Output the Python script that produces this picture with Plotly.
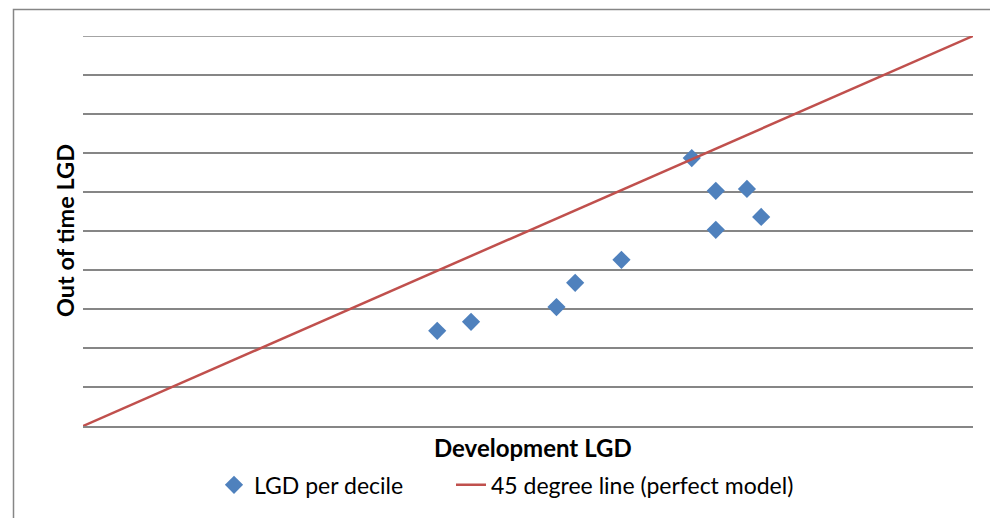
import plotly.graph_objects as go

# Data
dev_lgd = [0.398, 0.436, 0.532, 0.553, 0.605, 0.684, 0.711, 0.711, 0.746, 0.762]
oot_lgd = [0.244, 0.267, 0.305, 0.367, 0.426, 0.687, 0.603, 0.503, 0.608, 0.536]
line_x = [0.0, 1.0]
line_y = [0.0, 1.0]

FONT = "Lato, 'Noto Sans', sans-serif"
GRID = "#868686"

fig = go.Figure()
fig.add_trace(go.Scatter(
    x=dev_lgd, y=oot_lgd, mode="markers", name="LGD per decile",
    marker=dict(symbol="diamond", size=14, color="#4F81BD", line=dict(width=0)),
    legend="legend",
))
fig.add_trace(go.Scatter(
    x=line_x, y=line_y, mode="lines", name="45 degree line (perfect model)",
    line=dict(color="#C0504D", width=2.5),
    legend="legend2",
))

leg_common = dict(orientation="h", y=-0.151, yanchor="middle", xanchor="left",
                  font=dict(size=23), bgcolor="rgba(0,0,0,0)")

fig.update_layout(
    width=998, height=518,
    margin=dict(l=75, r=33, t=28, b=100),
    paper_bgcolor="white", plot_bgcolor="white",
    font=dict(family=FONT, size=23, color="black"),
    showlegend=True,
    legend=dict(x=(206 - 75) / 890, **leg_common),
    legend2=dict(x=(443 - 75) / 890, **leg_common),
    xaxis=dict(range=[0, 1], showticklabels=False, showgrid=False, zeroline=False,
               showline=True, linecolor=GRID, linewidth=1.5, ticks=""),
    yaxis=dict(range=[0, 1], dtick=0.1, tick0=0, showticklabels=False, showgrid=True,
               gridcolor=GRID, gridwidth=1.5, zeroline=False, showline=False, ticks=""),
    annotations=[
        dict(text="<b>Development LGD</b>", xref="paper", yref="paper", x=0.5056,
             y=(426 - 447) / 390, xanchor="center", yanchor="middle", showarrow=False,
             font=dict(size=24)),
        dict(text="<b>Out of time LGD</b>", xref="paper", yref="paper", x=(65 - 83) / 890,
             y=0.5, xanchor="center", yanchor="middle", showarrow=False, textangle=-90,
             font=dict(size=23.5)),
    ],
    shapes=[
        dict(type="rect", xref="paper", yref="paper",
             x0=(13.5 - 83) / 890, x1=(1010 - 83) / 890,
             y0=(426 - 530) / 390, y1=(426 - 9.5) / 390,
             line=dict(color=GRID, width=1.5), fillcolor="rgba(0,0,0,0)", layer="below"),
        dict(type="line", xref="paper", yref="y", x0=0, x1=1, y0=1, y1=1,
             line=dict(color=GRID, width=1.5), layer="below"),
    ],
)

fig.write_html("out.html")
